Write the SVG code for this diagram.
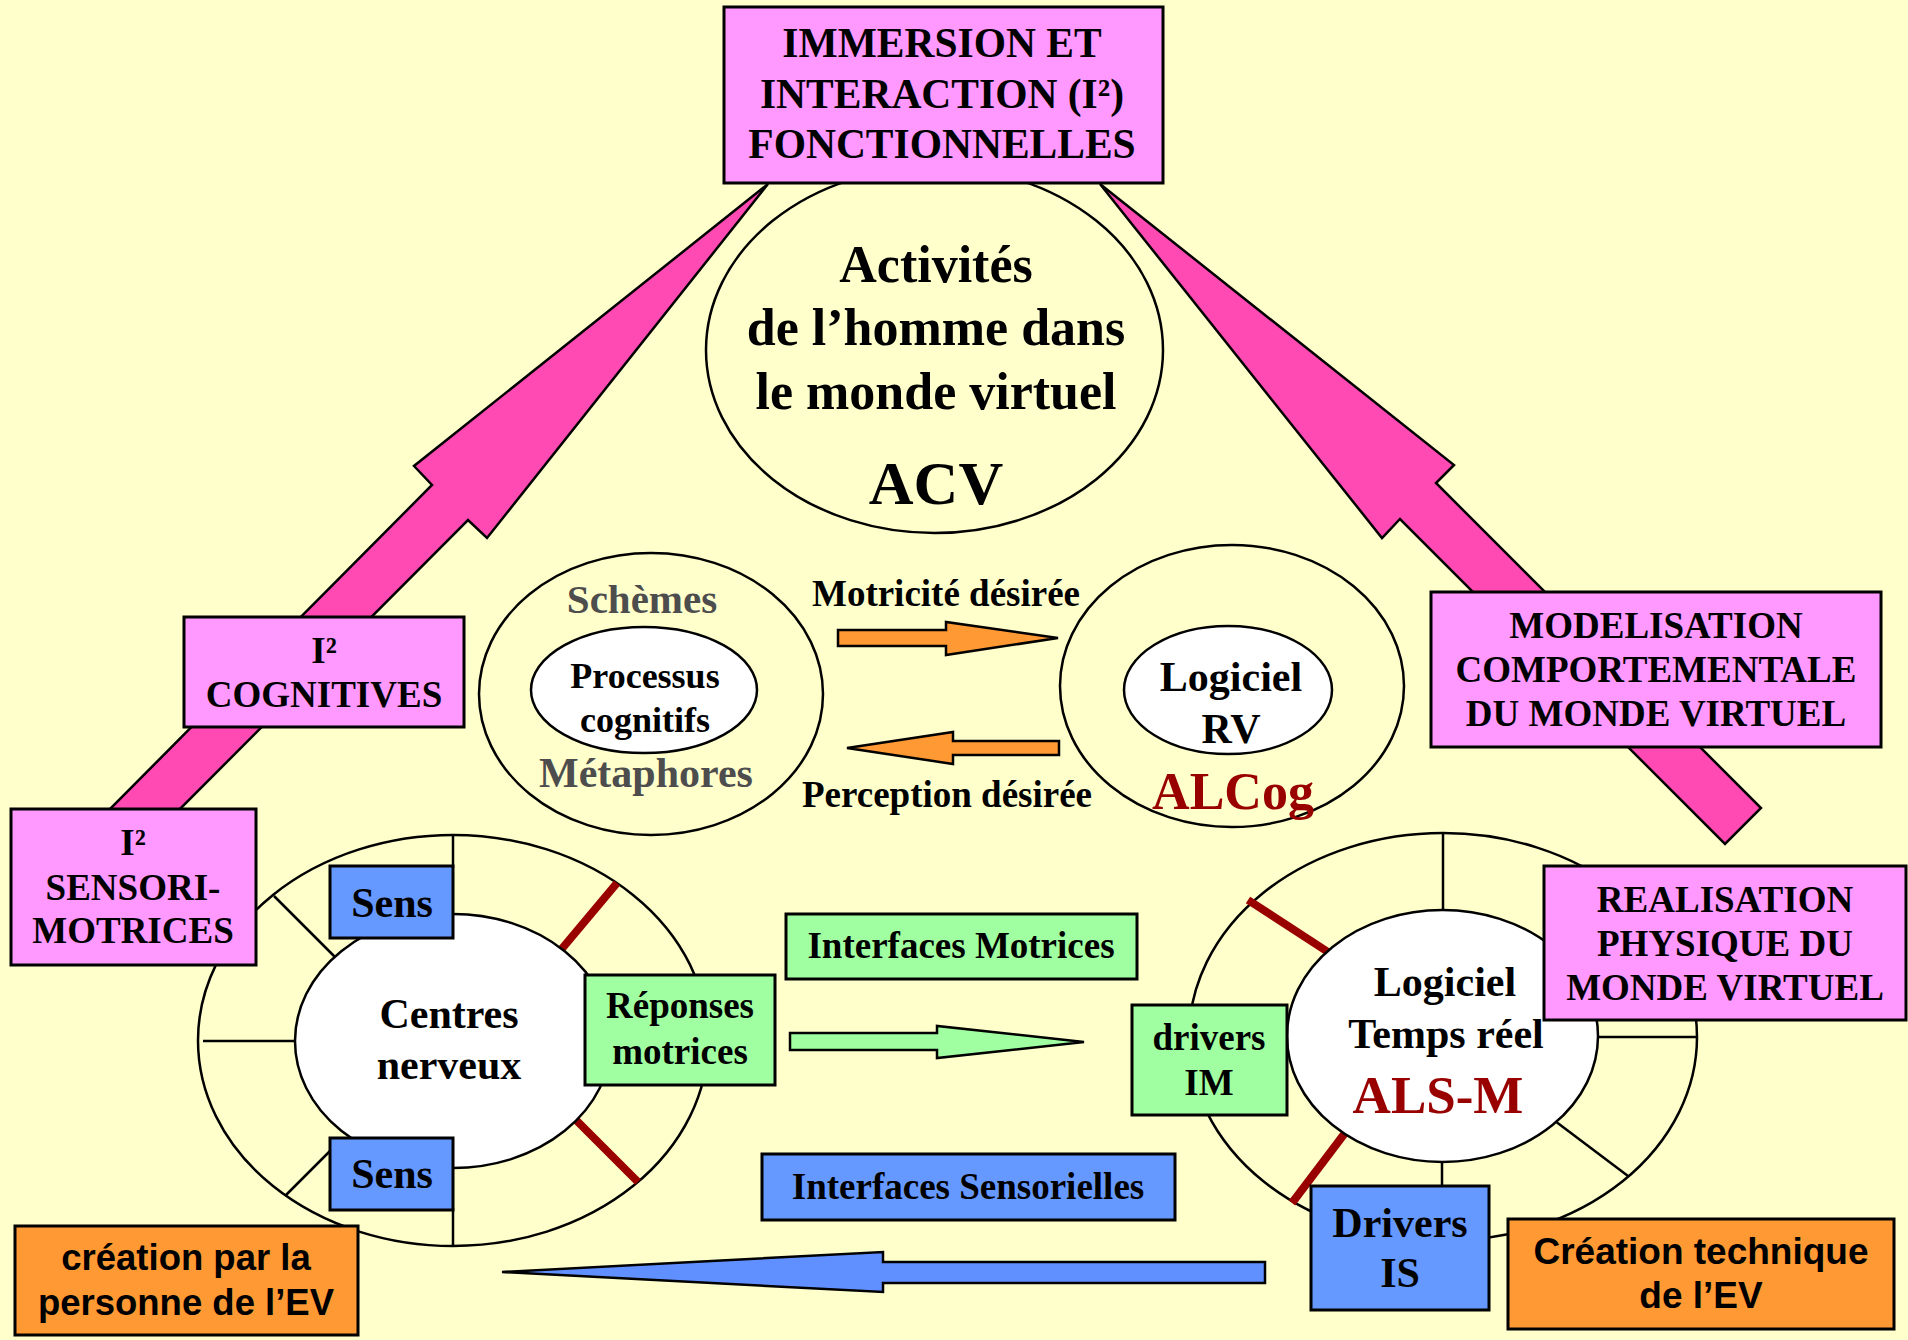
<svg xmlns="http://www.w3.org/2000/svg" width="1908" height="1340" viewBox="0 0 1908 1340">
<style>
.bg{fill:#FFFFCC}
.pink{fill:#FF99FF;stroke:#000;stroke-width:3}
.blue{fill:#6699FF;stroke:#000;stroke-width:3}
.green{fill:#A0FFA0;stroke:#000;stroke-width:3}
.orange{fill:#FF9933;stroke:#000;stroke-width:3}
.band{fill:#FF4AB4;stroke:#000;stroke-width:2.5;stroke-linejoin:miter}
.ell{fill:none;stroke:#000;stroke-width:2.5}
.ellw{fill:#FFFFFF;stroke:#000;stroke-width:2.5}
.spoke{stroke:#000;stroke-width:2.5}
.red{stroke:#990000;stroke-width:8}
text{font-family:"Liberation Serif","Times New Roman",serif;font-weight:bold;text-anchor:middle;fill:#000}
.t37{font-size:37px}
.t42{font-size:42px}
.gray{fill:#4D4D4D}
.dred{fill:#990000}
.sans{font-family:"Liberation Sans",Arial,sans-serif;font-size:36.5px}
</style>
<rect class="bg" x="0" y="0" width="1908" height="1340"/>

<g id="connectors">
  <polygon class="band" points="768,184 414,466 432,485 104,815 174,815 468,520 487,538"/>
  <polygon class="band" points="1100,184 1454,465 1436,483 1761,808 1725,844 1400,519 1382,538"/>
  <polygon class="band" style="fill:#FF9933" points="838,630 946,630 946,622 1058,638 946,655 946,646 838,646"/>
  <polygon class="band" style="fill:#FF9933" points="1059,741 953,741 953,732 847,748 953,764 953,755 1059,755"/>
  <polygon class="band" style="fill:#A0FFA0" points="790,1033 937,1033 937,1026 1084,1042 937,1058 937,1050 790,1050"/>
  <polygon class="band" style="fill:#6090FF" points="1265,1262 883,1262 883,1252 502,1272 883,1292 883,1283 1265,1283"/>
</g>

<g id="acv">
  <ellipse class="ell" cx="934.5" cy="350" rx="228.5" ry="183"/>
  <text x="936" y="282" style="font-size:52px">Activités</text>
  <text x="936" y="345" style="font-size:52px">de l’homme dans</text>
  <text x="936" y="409" style="font-size:52px">le monde virtuel</text>
  <text x="936" y="504" style="font-size:62px">ACV</text>
</g>

<g id="top-box">
  <rect class="pink" x="724" y="7" width="439" height="176"/>
  <text x="942" y="57" style="font-size:41.5px">IMMERSION ET</text>
  <text x="942" y="108" style="font-size:41.5px">INTERACTION (I²)</text>
  <text x="942" y="158" style="font-size:41.5px">FONCTIONNELLES</text>
</g>

<g id="schemes">
  <ellipse class="ell" cx="651" cy="694" rx="172" ry="141"/>
  <ellipse class="ellw" cx="644" cy="690" rx="113" ry="63"/>
  <text class="gray" x="642" y="613" style="font-size:41px">Schèmes</text>
  <text class="t37" x="645" y="688" style="font-size:36px">Processus</text>
  <text class="t37" x="645" y="732" style="font-size:36px">cognitifs</text>
  <text class="gray" x="646" y="787" style="font-size:42px">Métaphores</text>
</g>

<g id="label-motricite">
  <text class="t37" x="946" y="606">Motricité désirée</text>
</g>
<g id="label-perception">
  <text class="t37" x="947" y="807">Perception désirée</text>
</g>

<g id="logiciel-rv">
  <ellipse class="ell" cx="1232" cy="686" rx="172" ry="141"/>
  <ellipse class="ellw" cx="1228" cy="690" rx="104" ry="64"/>
  <text class="t42" x="1231" y="691">Logiciel</text>
  <text class="t42" x="1231" y="743">RV</text>
  <text class="dred" x="1233" y="809" style="font-size:52px">ALCog</text>
</g>

<g id="cognitives">
  <rect class="pink" x="184" y="617" width="280" height="110"/>
  <text class="t37" x="324" y="663">I²</text>
  <text class="t37" x="324" y="707">COGNITIVES</text>
</g>

<g id="modelisation">
  <rect class="pink" x="1431" y="592" width="450" height="155"/>
  <text class="t37" x="1656" y="638">MODELISATION</text>
  <text class="t37" x="1656" y="682">COMPORTEMENTALE</text>
  <text class="t37" x="1656" y="726">DU MONDE VIRTUEL</text>
</g>

<g id="left-ring">
  <ellipse class="ell" cx="453" cy="1040.5" rx="255" ry="205.5"/>
  <line class="spoke" x1="453" y1="835" x2="453" y2="868"/>
  <line class="spoke" x1="274" y1="896" x2="336" y2="958"/>
  <line class="spoke" x1="203" y1="1041" x2="297" y2="1041"/>
  <line class="spoke" x1="286" y1="1195" x2="332" y2="1149"/>
  <line class="spoke" x1="453" y1="1208" x2="453" y2="1246"/>
  <line class="red" x1="617" y1="883" x2="560" y2="951"/>
  <line class="red" x1="575" y1="1119" x2="638" y2="1182"/>
  <ellipse class="ellw" cx="453" cy="1041" rx="158" ry="127"/>
  <text class="t42" x="449" y="1028">Centres</text>
  <text class="t42" x="449" y="1079">nerveux</text>
</g>

<g id="sens-top">
  <rect class="blue" x="330" y="866" width="123" height="72"/>
  <text class="t42" x="392" y="917">Sens</text>
</g>
<g id="sens-bottom">
  <rect class="blue" x="330" y="1138" width="123" height="72"/>
  <text class="t42" x="392" y="1188">Sens</text>
</g>
<g id="reponses">
  <rect class="green" x="585" y="975" width="190" height="110"/>
  <text class="t37" x="680" y="1018">Réponses</text>
  <text class="t37" x="680" y="1064">motrices</text>
</g>

<g id="sensori">
  <rect class="pink" x="11" y="809" width="245" height="156"/>
  <text class="t37" x="133" y="855">I²</text>
  <text class="t37" x="133" y="900">SENSORI-</text>
  <text class="t37" x="133" y="943">MOTRICES</text>
</g>

<g id="interfaces-motrices">
  <rect class="green" x="786" y="914" width="351" height="65"/>
  <text class="t37" x="961" y="958">Interfaces Motrices</text>
</g>
<g id="interfaces-sensorielles">
  <rect class="blue" x="762" y="1154" width="413" height="66"/>
  <text class="t37" x="968" y="1199">Interfaces Sensorielles</text>
</g>

<g id="right-ring">
  <ellipse class="ell" cx="1443" cy="1037" rx="254" ry="204"/>
  <line class="spoke" x1="1443" y1="833" x2="1443" y2="912"/>
  <line class="spoke" x1="1597" y1="1037" x2="1696" y2="1037"/>
  <line class="spoke" x1="1555" y1="1121" x2="1628" y2="1176"/>
  <line class="spoke" x1="1442" y1="1160" x2="1442" y2="1188"/>
  <line class="red" x1="1248" y1="900" x2="1328" y2="952"/>
  <line class="red" x1="1345" y1="1133" x2="1292" y2="1203"/>
  <ellipse class="ellw" cx="1442.5" cy="1036" rx="155.5" ry="126"/>
  <text class="t42" x="1445" y="996">Logiciel</text>
  <text class="t42" x="1446" y="1048">Temps réel</text>
  <text class="dred" x="1438" y="1113" style="font-size:53px">ALS-M</text>
</g>

<g id="drivers-im">
  <rect class="green" x="1132" y="1005" width="155" height="110"/>
  <text class="t37" x="1209" y="1050">drivers</text>
  <text class="t37" x="1209" y="1095">IM</text>
</g>
<g id="drivers-is">
  <rect class="blue" x="1311" y="1186" width="178" height="124"/>
  <text class="t42" x="1400" y="1237">Drivers</text>
  <text class="t42" x="1400" y="1287">IS</text>
</g>

<g id="realisation">
  <rect class="pink" x="1544" y="866" width="362" height="154"/>
  <text class="t37" x="1725" y="912">REALISATION</text>
  <text class="t37" x="1725" y="956">PHYSIQUE DU</text>
  <text class="t37" x="1725" y="1000">MONDE VIRTUEL</text>
</g>

<g id="creation-personne">
  <rect class="orange" x="15" y="1226" width="343" height="109"/>
  <text class="sans" x="186" y="1270">création par la</text>
  <text class="sans" x="186" y="1315">personne de l’EV</text>
</g>
<g id="creation-technique">
  <rect class="orange" x="1508" y="1219" width="386" height="110"/>
  <text class="sans" x="1701" y="1264" style="font-size:37px">Création technique</text>
  <text class="sans" x="1701" y="1308" style="font-size:37px">de l’EV</text>
</g>
</svg>
